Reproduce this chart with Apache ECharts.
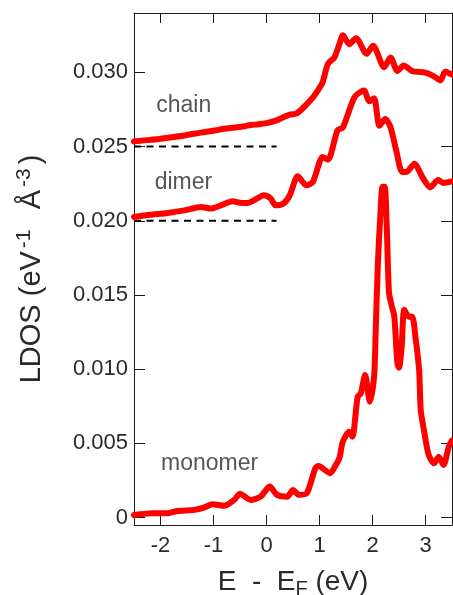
<!DOCTYPE html>
<html>
<head>
<meta charset="utf-8">
<script src="https://cdn.jsdelivr.net/npm/echarts@6/dist/echarts.min.js"></script>
<style>
html,body{margin:0;padding:0;background:#fff;}
#chart{width:453px;height:595px;}
</style>
</head>
<body>
<div id="chart"></div>
<script>
// ---- data ----
const xTicks = [-2, -1, 0, 1, 2, 3];
const yTicks = [0, 0.005, 0.010, 0.015, 0.020, 0.025, 0.030];

const chainE = [-2.5,-2.2,-1.86,-1.55,-1.24,-0.95,-0.8,-0.6,-0.45,-0.3,-0.15,0.0,0.19,0.3,0.44,0.56,0.69,0.88,1.0,1.06,1.16,1.28,1.375,1.44,1.56,1.69,1.89,2.01,2.22,2.34,2.47,2.59,2.75,3.0,3.15,3.28,3.375,3.47,3.5];
const chainLDOS = [0.02535,0.02545,0.02560,0.02575,0.02594,0.02610,0.02620,0.02628,0.02635,0.02645,0.02650,0.02658,0.02676,0.02695,0.02715,0.02722,0.02760,0.02833,0.02895,0.02934,0.03058,0.03100,0.03190,0.03250,0.03190,0.03230,0.03125,0.03180,0.03035,0.03100,0.03010,0.03047,0.03008,0.02998,0.02975,0.02946,0.03005,0.02990,0.02985];

const dimerE = [-2.5,-2.2,-1.86,-1.55,-1.24,-1.05,-0.85,-0.64,-0.5,-0.36,-0.2,-0.05,0.08,0.17,0.32,0.44,0.59,0.75,0.875,1.06,1.16,1.34,1.44,1.66,1.84,1.94,2.03,2.13,2.24,2.34,2.45,2.56,2.65,2.79,2.94,3.09,3.24,3.34,3.5];
const dimerLDOS = [0.02026,0.02040,0.02053,0.02070,0.02093,0.02082,0.02105,0.02131,0.02122,0.02120,0.02145,0.02172,0.02150,0.02104,0.02116,0.02172,0.02300,0.02240,0.02261,0.02430,0.02412,0.02610,0.02627,0.02833,0.02878,0.02805,0.02825,0.02640,0.02685,0.02630,0.02470,0.02329,0.02330,0.02385,0.02295,0.02225,0.02275,0.02255,0.02265];

const monomerE = [-2.5,-2.3,-2.18,-1.86,-1.68,-1.36,-1.18,-1.02,-0.8,-0.61,-0.5,-0.3,-0.11,0.06,0.2,0.39,0.5,0.61,0.76,0.92,0.98,1.2,1.3,1.375,1.44,1.56,1.62,1.72,1.78,1.86,1.95,2.03,2.06,2.1,2.15,2.19,2.23,2.27,2.31,2.36,2.41,2.47,2.5,2.55,2.6,2.69,2.75,2.81,2.88,2.91,2.97,3.06,3.16,3.25,3.34,3.44,3.5];
const monomerLDOS = [0.00018,0.00025,0.00030,0.00030,0.00045,0.00052,0.00067,0.00090,0.00079,0.00119,0.00160,0.00119,0.00141,0.00209,0.00153,0.00141,0.00186,0.00153,0.00164,0.00332,0.00348,0.00299,0.00350,0.00400,0.00511,0.00579,0.00545,0.00814,0.00837,0.00960,0.00781,0.00950,0.01250,0.01700,0.02050,0.02230,0.02230,0.01950,0.01520,0.01430,0.01360,0.01040,0.01010,0.01150,0.01400,0.01353,0.01353,0.01218,0.00994,0.00725,0.00590,0.00422,0.00366,0.00410,0.00355,0.00478,0.00520];

// zero-level reference lines (dashed)
const refLevels = [0.025, 0.020];
const refE = [-2.5, 0.19];

// curve annotations
const annNames = ['chain', 'dimer', 'monomer'];
const annE = [-2.08, -2.11, -1.99];
const annLDOS = [0.02777, 0.02257, 0.00361];

// ---- chart ----
const zip = (xs, ys) => xs.map((x, i) => [x, ys[i]]);
const FONT = '"Liberation Sans", Arial, Helvetica, sans-serif';
const TXT = '#2a2a2a';
const AX = '#1a1a1a';

const chart = echarts.init(document.getElementById('chart'), null, {renderer: 'canvas', width: 453, height: 595});

const redLine = (name, data) => ({
  name, type: 'line', data, showSymbol: false, symbol: 'none', smooth: 0.25,
  lineStyle: {color: '#ff0000', width: 6, cap: 'round', join: 'round'},
  z: 3, animation: false
});

const series = [
  ...refLevels.map(l => ({
    type: 'line', data: refE.map(e => [e, l]), symbol: 'none',
    lineStyle: {color: '#000', width: 2, type: [7, 5.5]}, z: 2, animation: false
  })),
  redLine('chain', zip(chainE, chainLDOS)),
  redLine('dimer', zip(dimerE, dimerLDOS)),
  redLine('monomer', zip(monomerE, monomerLDOS)),
  {
    type: 'scatter', symbolSize: 0, animation: false, silent: true,
    data: annNames.map((n, i) => ({value: [annE[i], annLDOS[i]], name: n})),
    label: {show: true, position: 'right', distance: 0, formatter: p => p.name,
      fontFamily: FONT, fontSize: 23, color: TXT, align: 'left', verticalAlign: 'middle'}
  }
];

const baseX = {
  type: 'value', min: -2.5, max: 3.5,
  axisLine: {show: true, onZero: false, lineStyle: {color: AX, width: 1}},
  splitLine: {show: false},
};
const baseY = {
  type: 'value', min: -0.0005, max: 0.034,
  axisLine: {show: true, onZero: false, lineStyle: {color: AX, width: 1}},
  splitLine: {show: false},
};

chart.setOption({
  animation: false,
  backgroundColor: '#fff',
  grid: {left: 134, right: 1, top: 13, bottom: 70, containLabel: false, outerBoundsMode: 'none'},
  xAxis: [
    Object.assign({}, baseX, {
      position: 'bottom',
      axisTick: {show: true, inside: true, length: 10, customValues: xTicks, lineStyle: {color: AX}},
      axisLabel: {show: true, customValues: xTicks, margin: 10, fontFamily: FONT, fontSize: 22, color: TXT,
        formatter: v => String(v)},
      name: 'E  -  E{sub|F} (eV)',
      nameLocation: 'middle', nameGap: 40,
      nameTextStyle: {fontFamily: FONT, fontSize: 28, color: TXT,
        rich: {sub: {fontFamily: FONT, fontSize: 20, color: TXT, padding: [14, 0, 0, 0]}}}
    }),
    Object.assign({}, baseX, {
      position: 'top',
      axisTick: {show: true, inside: true, length: 10, customValues: xTicks, lineStyle: {color: AX}},
      axisLabel: {show: false}
    })
  ],
  yAxis: [
    Object.assign({}, baseY, {
      position: 'left',
      axisTick: {show: true, inside: true, length: 11, customValues: yTicks, lineStyle: {color: AX}},
      axisLabel: {show: true, customValues: yTicks, margin: 6, fontFamily: FONT, fontSize: 22, color: TXT,
        formatter: v => (Math.abs(v) < 1e-9 ? '0' : v.toFixed(3))},
      name: 'LDOS (eV{sup|-1}  Å{sup|-3})',
      nameLocation: 'middle', nameRotate: 90, nameGap: 85,
      nameTextStyle: {fontFamily: FONT, fontSize: 29, color: TXT,
        rich: {sup: {fontFamily: FONT, fontSize: 21, color: TXT, padding: [0, 4, 14, 3]}}}
    }),
    Object.assign({}, baseY, {
      position: 'right',
      axisTick: {show: true, inside: true, length: 11, customValues: yTicks, lineStyle: {color: AX}},
      axisLabel: {show: false}
    })
  ],
  series: series.map((s, i) => Object.assign(s, {xAxisIndex: 0, yAxisIndex: 0}))
});
</script>
</body>
</html>
